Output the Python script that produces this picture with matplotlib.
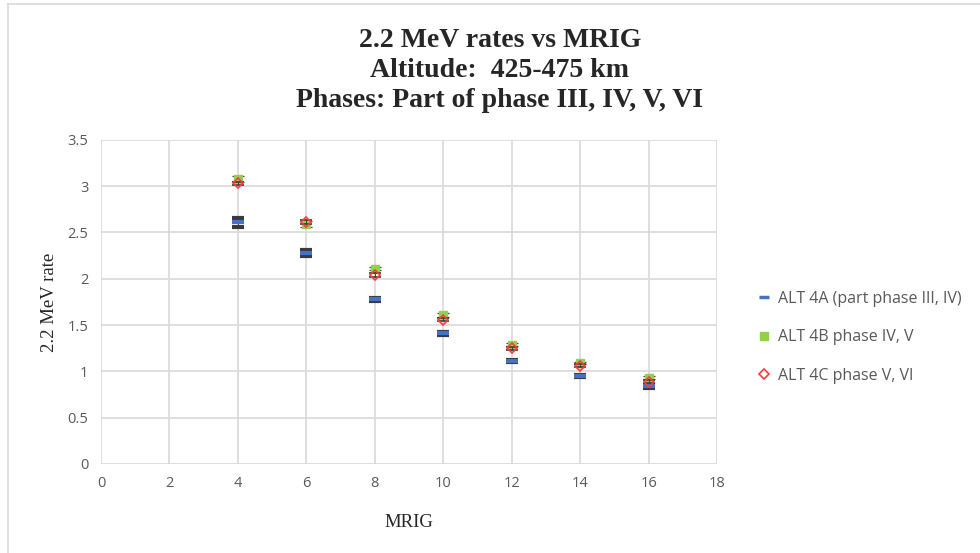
import matplotlib.pyplot as plt
from matplotlib.lines import Line2D

mrig = [4, 6, 8, 10, 12, 14, 16]

rate_4a = [2.61, 2.28, 1.78, 1.41, 1.11, 0.95, 0.84]
err_4a = [0.05, 0.035, 0.015, 0.015, 0.01, 0.01, 0.015]
rate_4b = [3.08, 2.59, 2.11, 1.61, 1.29, 1.09, 0.93]
err_4b = [0.035, 0.035, 0.02, 0.02, 0.015, 0.015, 0.015]
rate_4c = [3.03, 2.61, 2.04, 1.56, 1.25, 1.06, 0.89]
err_4c = [0.02, 0.02, 0.02, 0.015, 0.015, 0.015, 0.015]

labels = ['ALT 4A (part phase III, IV)', 'ALT 4B phase IV, V', 'ALT 4C phase V, VI']

fig = plt.figure(figsize=(9.8, 5.53), dpi=100)
ax = fig.add_axes([0.103, 0.161, 0.629, 0.586])

grid_c = '#d9d9d9'
tick_c = '#595959'
err_c = '#3a3a3a'

ax.errorbar(mrig, rate_4a, yerr=err_4a, fmt='_', color='#4472c4', ms=9, mew=3,
            ecolor=err_c, elinewidth=0.7, capsize=4, capthick=0.9, zorder=3)
ax.errorbar(mrig, rate_4b, yerr=err_4b, fmt='s', color='#92d050', ms=6,
            ecolor=err_c, elinewidth=0.7, capsize=4, capthick=0.9, zorder=4)
ax.errorbar(mrig, rate_4c, yerr=err_4c, fmt='D', mfc='none', mec='#ff3b3b', ms=5.5, mew=1.2,
            ecolor=err_c, elinewidth=0.7, capsize=4, capthick=0.9, zorder=5)

ax.set_xlim(0, 18)
ax.set_ylim(0, 3.5)
ax.set_xticks(range(0, 19, 2))
ax.set_yticks([0, 0.5, 1, 1.5, 2, 2.5, 3, 3.5])
ax.set_yticklabels(['0', '0.5', '1', '1.5', '2', '2.5', '3', '3.5'])
ax.grid(True, color=grid_c, linewidth=1.2)
ax.set_axisbelow(True)
for s in ax.spines.values():
    s.set_visible(False)
ax.tick_params(length=0, colors=tick_c, labelsize=10.5, pad=9)
for t in ax.get_xticklabels() + ax.get_yticklabels():
    t.set_fontfamily('Open Sans')

ax.set_xlabel('MRIG', fontfamily='Liberation Serif', fontsize=13.5, labelpad=16, color='#262626')
ax.set_ylabel('2.2 MeV rate', fontfamily='Liberation Serif', fontsize=13.5, labelpad=7, color='#262626')

fig.text(0.51, 0.949, '2.2 MeV rates vs MRIG\nAltitude:  425-475 km\nPhases: Part of phase III, IV, V, VI',
         ha='center', va='top', fontfamily='Liberation Serif', fontweight='bold',
         fontsize=20, linespacing=1.27, color='#262626')

handles = [
    Line2D([], [], ls='none', marker='_', color='#4472c4', ms=7, mew=2.5),
    Line2D([], [], ls='none', marker='s', color='#92d050', ms=6),
    Line2D([], [], ls='none', marker='D', mfc='none', mec='#ff3b3b', ms=5, mew=1.2),
]
leg = fig.legend(handles, labels, loc='center left', bbox_to_anchor=(0.76, 0.39),
                 frameon=False, handlelength=0.6, handletextpad=0.6, labelspacing=1.42,
                 prop={'family': 'Open Sans', 'size': 11.5})
for t in leg.get_texts():
    t.set_color(tick_c)

fig.add_artist(Line2D([0.008, 0.008], [0, 0.992], color='#d9d9d9', lw=1.2, transform=fig.transFigure))
fig.add_artist(Line2D([0.008, 1], [0.992, 0.992], color='#d9d9d9', lw=1.2, transform=fig.transFigure))

fig.savefig('out.png', dpi=100)
